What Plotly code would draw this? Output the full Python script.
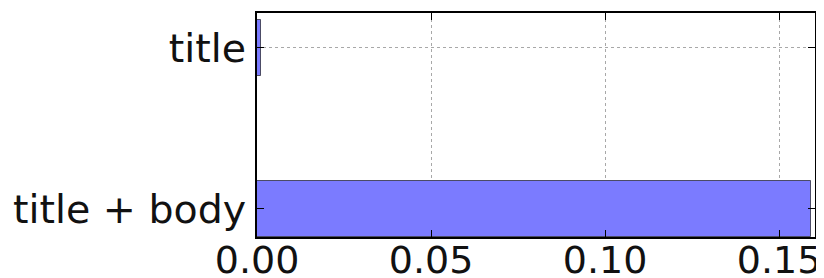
import plotly.graph_objects as go

categories = ["title + body", "title"]
values = [0.1592, 0.0012]
x_ticks = [0.0, 0.05, 0.10, 0.15]
x_tick_labels = ["0.00", "0.05", "0.10", "0.15"]

fig = go.Figure(go.Bar(
    y=categories, x=values, orientation="h", width=0.35,
    marker=dict(color="#7b7bff", line=dict(color="rgba(0,0,0,0.6)", width=1)),
))

xfont = dict(family="DejaVu Sans", size=38, color="#111")
yfont = dict(family="DejaVu Sans", size=39.5, color="#111")
# page body adds ~8px offset; figure sized to fill the remaining window
fig.update_layout(
    width=816, height=270,
    margin=dict(l=249, r=9, t=5, b=41, autoexpand=False),
    paper_bgcolor="white", plot_bgcolor="white",
    showlegend=False, font=xfont,
    bargap=0,
)
fig.update_xaxes(
    range=[0, 0.1603], tickvals=x_ticks, ticktext=x_tick_labels,
    showgrid=True, gridcolor="#a8a8a8", griddash="3px,3px", gridwidth=1,
    ticks="inside", ticklen=7, tickcolor="black", mirror="allticks",
    showline=True, linecolor="black", linewidth=2, zeroline=False,
    tickfont=xfont, ticklabelstandoff=-12, automargin=False,
)
fig.update_yaxes(
    range=[-0.175, 1.217], categoryorder="array", categoryarray=categories,
    showgrid=True, gridcolor="#a8a8a8", griddash="3px,3px", gridwidth=1,
    ticks="inside", ticklen=7, tickcolor="black", mirror="allticks",
    showline=True, linecolor="black", linewidth=2, zeroline=False,
    tickfont=yfont, ticklabelstandoff=1, automargin=False,
)
fig.write_html("out.html")
